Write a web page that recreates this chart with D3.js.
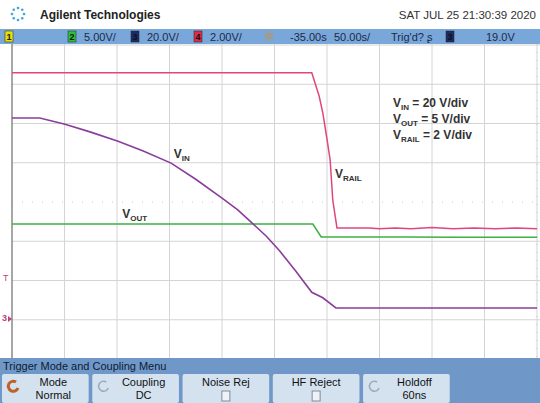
<!DOCTYPE html>
<html><head><meta charset="utf-8">
<script src="https://cdn.jsdelivr.net/npm/d3@7"></script>
<style>
body{margin:0;background:#fff;font-family:"Liberation Sans",Arial,sans-serif;}
</style></head>
<body><svg id="scope" width="540" height="403"></svg>
<script>
// traces in screen divisions: x 0..10, y -4..4
let vRail = [[0,3.29],[5.71,3.29],[5.85,2.7],[5.92,2.27],[6.0,1.6],[6.06,1.07],[6.11,0.05],[6.19,-0.66],
  [6.8,-0.66],[7.0,-0.68],[7.3,-0.66],[7.6,-0.68],[8.0,-0.65],[8.4,-0.68],[8.8,-0.66],[9.2,-0.68],[9.6,-0.66],[10,-0.68]];
let vOut = [[0,-0.56],[5.73,-0.56],[5.89,-0.89],[7.5,-0.89],[8.5,-0.9],[10,-0.9]];
let vIn = [[0,2.14],[0.53,2.14],[1.01,1.98],[1.5,1.78],[2.02,1.55],[2.5,1.3],[3.03,0.99],[3.5,0.58],[4.02,0.08],
  [4.3,-0.2],[4.57,-0.53],[4.85,-0.88],[5.10,-1.25],[5.4,-1.75],[5.71,-2.3],[5.92,-2.44],[6.17,-2.70],[10,-2.70]];
let traceLabels = [{t:"V",s:"IN",x:3.08,y:1.12},{t:"V",s:"OUT",x:2.1,y:-0.4},{t:"V",s:"RAIL",x:6.15,y:0.6}];
let scaleNotes = [["IN","= 20 V/div"],["OUT","= 5 V/div"],["RAIL","= 2 V/div"]];
let statusItems = [
  {box:"1",bc:"#e8e000",x:5},{box:"2",bc:"#2fbf3f",x:68,txt:"5.00V/"},{box:"3",bc:"#1c2c6a",x:131,txt:"20.0V/"},
  {box:"4",bc:"#e02a4a",x:194,txt:"2.00V/"},{x:290,txt:"-35.00s"},{x:334,txt:"50.00s/"},{x:391,txt:"Trig'd?   \u0282"},
  {box:"3",bc:"#1c2c6a",x:446},{x:486,txt:"19.0V"}];
let buttons = [["Mode","Normal"],["Coupling","DC"],["Noise Rej",""],["HF Reject",""],["Holdoff","60ns"]];

let svg = d3.select("#scope");
let x = d3.scaleLinear().domain([0,10]).range([12,537]);
let y = d3.scaleLinear().domain([-4,4]).range([359,45]);

// header
svg.append("text").attr("x",40).attr("y",19).attr("font-weight","bold").attr("font-size",12).attr("fill","#222").text("Agilent Technologies");
svg.append("text").attr("x",536).attr("y",19).attr("text-anchor","end").attr("font-size",11.5).attr("fill","#333").text("SAT JUL 25 21:30:39 2020");
let logo = svg.append("g").attr("transform","translate(18,14)");
d3.range(8).forEach(i => {
  let a = i*Math.PI/4;
  logo.append("circle").attr("cx",6*Math.cos(a)).attr("cy",6*Math.sin(a)).attr("r",1.3).attr("fill","#39a9d9");
});

// status bar
svg.append("rect").attr("x",0).attr("y",29).attr("width",540).attr("height",15).attr("fill","#7aa7d9");
statusItems.forEach(d => {
  if (d.box) {
    svg.append("rect").attr("x",d.x).attr("y",31).attr("width",8).attr("height",11).attr("fill",d.bc).attr("stroke","#222").attr("stroke-width",0.5);
    svg.append("text").attr("x",d.x+4).attr("y",40).attr("text-anchor","middle").attr("font-size",9).attr("font-weight","bold")
      .attr("fill", d.bc=="#e8e000"?"#222":"#111").text(d.box);
  }
  if (d.txt) svg.append("text").attr("x",d.box?d.x+16:d.x).attr("y",41).attr("font-size",11).attr("fill","#1b2a4a").text(d.txt);
});
let sun = svg.append("g").attr("transform","translate(269,36)");
sun.append("circle").attr("r",2.2).attr("fill","none").attr("stroke","#d98c1c");
d3.range(8).forEach(i => { let a=i*Math.PI/4;
  sun.append("line").attr("x1",3.5*Math.cos(a)).attr("y1",3.5*Math.sin(a)).attr("x2",5*Math.cos(a)).attr("y2",5*Math.sin(a)).attr("stroke","#d98c1c"); });

// plot area
svg.append("rect").attr("x",12).attr("y",44).attr("width",528).attr("height",314).attr("fill","#fff");
svg.append("g").selectAll("line").data(d3.range(1,11)).join("line")
  .attr("x1",d=>x(d)).attr("x2",d=>x(d)).attr("y1",44).attr("y2",358).attr("stroke","#d4d4d4");
svg.append("g").selectAll("line").data(d3.range(-3,5).filter(d=>d!=0)).join("line")
  .attr("x1",12).attr("x2",540).attr("y1",d=>y(d)).attr("y2",d=>y(d)).attr("stroke","#d4d4d4");
svg.append("line").attr("x1",12).attr("x2",540).attr("y1",y(0)).attr("y2",y(0)).attr("stroke","#c8c8c8").attr("stroke-dasharray","1,9");
svg.append("line").attr("x1",x(10)).attr("x2",x(10)).attr("y1",44).attr("y2",358).attr("stroke","#c8c8c8").attr("stroke-dasharray","1,7");
svg.append("line").attr("x1",12).attr("x2",12).attr("y1",44).attr("y2",358).attr("stroke","#888").attr("stroke-width",1.5);

let line = d3.line().x(d=>x(d[0])).y(d=>y(d[1]));
svg.append("path").attr("d",line(vOut)).attr("fill","none").attr("stroke","#3cb043").attr("stroke-width",1.5);
svg.append("path").attr("d",line(vRail)).attr("fill","none").attr("stroke","#e0457f").attr("stroke-width",1.5);
svg.append("path").attr("d",line(vIn)).attr("fill","none").attr("stroke","#8a3d9a").attr("stroke-width",1.6);

// trace labels
traceLabels.forEach(d => {
  let t = svg.append("text").attr("x",x(d.x)).attr("y",y(d.y)).attr("font-size",12).attr("font-weight","bold").attr("fill","#333");
  t.append("tspan").text(d.t);
  t.append("tspan").attr("font-size",8).attr("dy",3).text(d.s);
});
scaleNotes.forEach((d,i) => {
  let t = svg.append("text").attr("x",393).attr("y",107+i*16).attr("font-size",12).attr("font-weight","bold").attr("fill","#333");
  t.append("tspan").text("V");
  t.append("tspan").attr("font-size",8).attr("dy",3).text(d[0]);
  t.append("tspan").attr("dy",-3).text(" "+d[1]);
});

// left markers
svg.append("text").attr("x",3).attr("y",281).attr("font-size",9).attr("fill","#c0407a").text("T");
svg.append("text").attr("x",2).attr("y",321).attr("font-size",9).attr("font-weight","bold").attr("fill","#c0407a").text("3");
svg.append("path").attr("d","M8,316 L12,319 L8,322Z").attr("fill","#c0407a");

// softkey menu
svg.append("rect").attr("x",0).attr("y",358).attr("width",540).attr("height",45).attr("fill","#6f98c8");
svg.append("text").attr("x",3).attr("y",370).attr("font-size",11).attr("fill","#0d1b33").text("Trigger Mode and Coupling Menu");
let bx = d3.scaleBand().domain(d3.range(6)).range([2,540]).paddingInner(0.04);
buttons.forEach((b,i) => {
  let g = svg.append("g").attr("transform",`translate(${bx(i)},374)`);
  g.append("rect").attr("width",bx.bandwidth()).attr("height",29).attr("rx",2).attr("fill","#d4e2f0");
  let cx = bx.bandwidth()/2 + (i==0||i==1||i==4 ? 8 : 0);
  g.append("text").attr("x",cx).attr("y",12).attr("text-anchor","middle").attr("font-size",11).attr("fill","#111").text(b[0]);
  if (b[1]) g.append("text").attr("x",cx).attr("y",25).attr("text-anchor","middle").attr("font-size",11).attr("fill","#111").text(b[1]);
  else g.append("rect").attr("x",bx.bandwidth()/2-4).attr("y",17).attr("width",8).attr("height",10).attr("fill","#eef3f8").attr("stroke","#889");
  if (i==0||i==1||i==4) g.append("path").attr("d","M14,8 A5,5 0 1,0 16,14").attr("fill","none")
    .attr("stroke", i==0?"#c0602a":"#9ab").attr("stroke-width",i==0?3:1.5);
});
</script></body></html>
